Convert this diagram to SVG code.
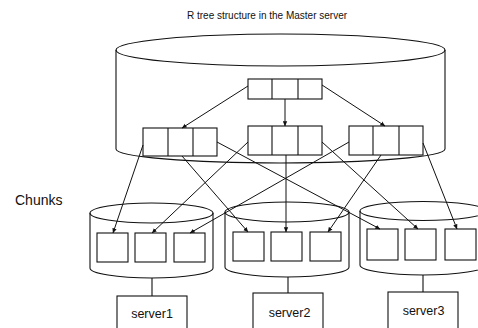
<svg xmlns="http://www.w3.org/2000/svg" width="478" height="328" viewBox="0 0 478 328">
<style>
.s{fill:none;stroke:#111;stroke-width:1.1}
.b{fill:#fff;stroke:#111;stroke-width:1.1}
.c{stroke:#111;stroke-width:1;fill:none;marker-end:url(#ah)}
.t{font-family:"Liberation Sans",Arial,sans-serif;fill:#111}
</style>
<defs>
<marker id="ah" viewBox="0 0 8 8" refX="7.5" refY="4" markerWidth="5" markerHeight="5" orient="auto" markerUnits="userSpaceOnUse">
<path d="M0,0.5 L8,4 L0,7.5 z" fill="#111"/>
</marker>
</defs>
<rect width="478" height="328" fill="#fff"/>
<text class="t" x="267" y="19" font-size="10" text-anchor="middle">R tree structure in the Master server</text>
<text class="t" x="15" y="205" font-size="14">Chunks</text>

<g id="master">
<ellipse class="s" cx="280.5" cy="50" rx="164.5" ry="16"/>
<path class="s" d="M116,50 V149 A164.5,14 0 0 0 445,149 V50"/>
</g>

<g id="root">
<rect class="b" x="248" y="79" width="74" height="20"/>
<path class="s" d="M272,79 V99 M298,79 V99"/>
</g>
<g id="n1">
<rect class="b" x="143" y="128" width="74" height="28"/>
<path class="s" d="M168,128 V156 M193,128 V156"/>
</g>
<g id="n2">
<rect class="b" x="248" y="126" width="74" height="29"/>
<path class="s" d="M272,126 V155 M298,126 V155"/>
</g>
<g id="n3">
<rect class="b" x="349" y="126" width="74" height="29"/>
<path class="s" d="M373,126 V155 M399,126 V155"/>
</g>

<g id="cyl1">
<ellipse class="s" cx="151.5" cy="213" rx="61.5" ry="10"/>
<path class="s" d="M90,213 V268 A61.5,10 0 0 0 213,268 V213"/>
<rect class="b" x="97" y="233" width="31" height="29"/>
<rect class="b" x="135" y="233" width="31" height="29"/>
<rect class="b" x="174" y="233" width="31" height="29"/>
</g>
<g id="cyl2">
<ellipse class="s" cx="287" cy="212" rx="62" ry="10"/>
<path class="s" d="M225,212 V267 A62,10 0 0 0 349,267 V212"/>
<rect class="b" x="233" y="232" width="31" height="29"/>
<rect class="b" x="271" y="232" width="31" height="29"/>
<rect class="b" x="310" y="232" width="31" height="29"/>
</g>
<g id="cyl3">
<ellipse class="s" cx="423" cy="211" rx="63" ry="9.5"/>
<path class="s" d="M360,211 V265 A63,10 0 0 0 486,265 V211"/>
<rect class="b" x="367" y="229" width="31" height="31"/>
<rect class="b" x="405" y="229" width="31" height="31"/>
<rect class="b" x="445" y="229" width="31" height="31"/>
</g>

<g id="server1">
<rect class="b" x="117" y="296" width="70" height="40"/>
<text class="t" x="152" y="318" font-size="12.5" text-anchor="middle">server1</text>
</g>
<g id="server2">
<rect class="b" x="253" y="293" width="70" height="43"/>
<text class="t" x="289.5" y="317" font-size="12.5" text-anchor="middle">server2</text>
</g>
<g id="server3">
<rect class="b" x="388" y="292" width="70" height="44"/>
<text class="t" x="423.5" y="315" font-size="12.5" text-anchor="middle">server3</text>
</g>

<g id="connectors">
<path class="c" d="M248,86 L182,128"/>
<path class="c" d="M285,99 L285,126"/>
<path class="c" d="M322,85 L385,126"/>

<path class="c" d="M143,145 L113,233"/>
<path class="c" d="M182,156 L248,232"/>
<path class="c" d="M217,142 L380,229"/>

<path class="c" d="M248,142 L152,233"/>
<path class="c" d="M286,155 L286,232"/>
<path class="c" d="M322,142 L418,229"/>

<path class="c" d="M349,142 L190,233"/>
<path class="c" d="M381,155 L328,232"/>
<path class="c" d="M423,143 L457,229"/>

<path class="s" d="M152,278 V296 M288,277 V293 M423,275 V292"/>
</g>
</svg>
